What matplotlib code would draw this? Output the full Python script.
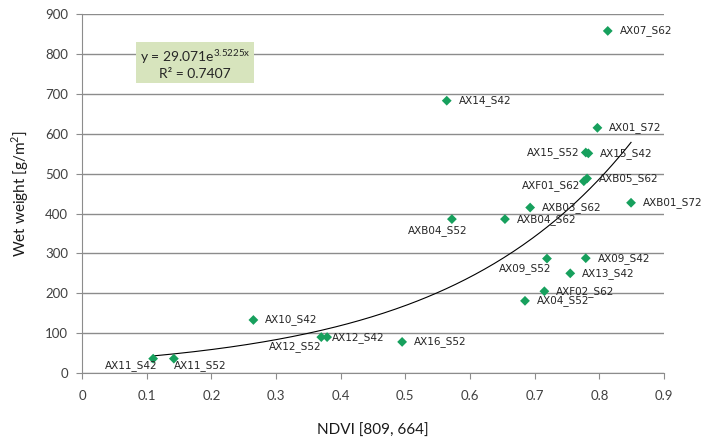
import numpy as np
import matplotlib
matplotlib.use("Agg")
import matplotlib.pyplot as plt

plt.rcParams["mathtext.fontset"] = "custom"
plt.rcParams["mathtext.rm"] = "Lato"

# sample plots, NDVI vs wet weight
names = ["AX07_S62", "AX14_S42", "AX01_S72", "AX15_S52", "AX15_S42", "AXF01_S62",
         "AXB05_S62", "AXB03_S62", "AXB01_S72", "AXB04_S62", "AXB04_S52", "AX09_S52",
         "AX09_S42", "AX13_S42", "AXF02_S62", "AX04_S52", "AX16_S52", "AX10_S42",
         "AX12_S52", "AX12_S42", "AX11_S42", "AX11_S52"]
ndvi = [0.813, 0.564, 0.797, 0.779, 0.783, 0.776,
        0.781, 0.693, 0.849, 0.654, 0.572, 0.719,
        0.779, 0.755, 0.715, 0.685, 0.495, 0.265,
        0.370, 0.379, 0.110, 0.142]
wet = [858, 683, 615, 553, 551, 481,
       488, 415, 427, 386, 386, 287,
       288, 250, 205, 181, 78, 133,
       90, 90, 36, 36]

# exponential trend shown on the chart
a, b = 29.071, 3.5225
r2 = 0.7407

# label placement: (dx px, dy px, ha)
offsets = {
    "AX15_S52": (-6, 0, "right"), "AXF01_S62": (-4, -4, "right"),
    "AXB04_S52": (16, -11, "right"), "AX09_S52": (4, -10, "right"),
    "AX12_S52": (0, -9, "right"), "AX11_S42": (4, -7, "right"),
    "AX11_S52": (0, -7, "left"), "AX12_S42": (5, 0, "left"),
}

fig = plt.figure(figsize=(7.17, 4.43), dpi=100)
ax = fig.add_axes([0.1144, 0.158, 0.8117, 0.81])

grey = "#8c8c8c"
ax.set_xlim(0, 0.9)
ax.set_ylim(0, 900)
ax.set_xticks(np.arange(0, 0.91, 0.1))
ax.set_xticklabels(["0", "0.1", "0.2", "0.3", "0.4", "0.5", "0.6", "0.7", "0.8", "0.9"])
ax.set_yticks(range(0, 901, 100))
ax.yaxis.grid(True, color=grey, linewidth=1)
ax.set_axisbelow(True)
for s in ["top", "right"]:
    ax.spines[s].set_visible(False)
for s in ["left", "bottom"]:
    ax.spines[s].set_color(grey)
ax.tick_params(axis="both", direction="out", length=4, color=grey, labelcolor="#404040",
               labelsize=9.5, labelfontfamily="Lato")
ax.tick_params(axis="x", pad=8)
ax.tick_params(axis="y", pad=6)

xs = np.linspace(min(ndvi), max(ndvi), 200)
ax.plot(xs, a * np.exp(b * xs), color="black", linewidth=0.8, zorder=2)

ax.scatter(ndvi, wet, marker="D", s=25, color="#17a05d", edgecolors="none", zorder=3)

for n, x, y in zip(names, ndvi, wet):
    dx, dy, ha = offsets.get(n, (12, 0, "left"))
    ax.annotate(n, (x, y), xytext=(dx, dy), textcoords="offset pixels",
                ha=ha, va="center", fontsize=7.5, color="#262626",
                family="DejaVu Sans", zorder=4)

ax.text(0.194, 0.862, "y = 29.071e$^{\\mathrm{3.5225x}}$\nR\u00b2 = " + str(r2), transform=ax.transAxes,
        ha="center", va="center", fontsize=10, family="Lato", color="#262626",
        linespacing=1.2,
        bbox=dict(boxstyle="square,pad=0.25", facecolor="#d7e4bd", edgecolor="none"))

ax.set_xlabel("NDVI [809, 664]", fontsize=11, family="Lato", color="#1a1a1a", labelpad=16)
ax.set_ylabel("Wet weight [g/m$^2$]", fontsize=11, family="Lato", color="#1a1a1a", labelpad=10)

fig.savefig("out.png", dpi=100)
